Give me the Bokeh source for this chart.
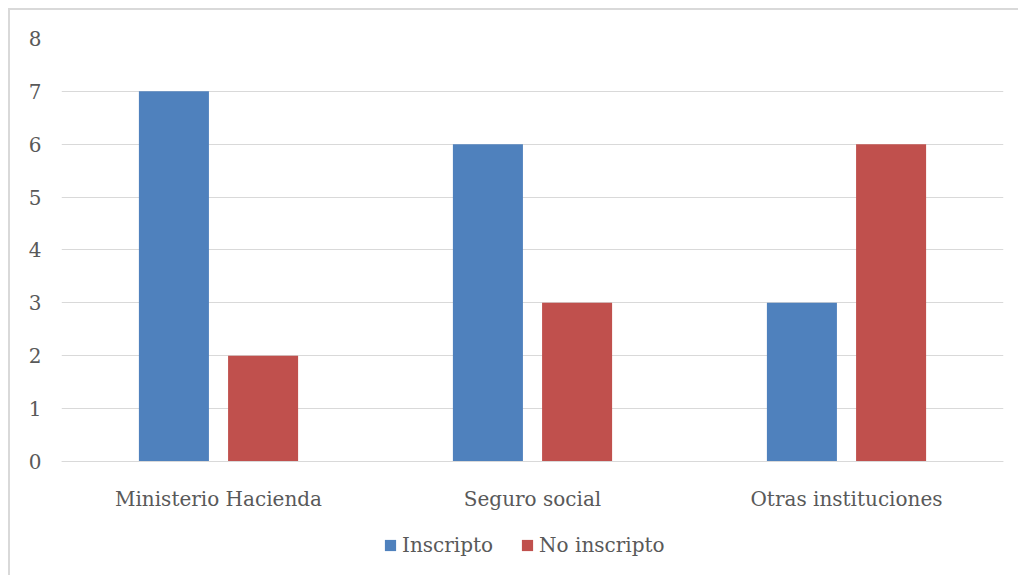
from bokeh.plotting import figure
from bokeh.models import ColumnDataSource, Legend, LegendItem, FactorRange, FixedTicker, Range1d
from bokeh.transform import dodge
from bokeh.embed import file_html
from bokeh.resources import INLINE

categories = ["Ministerio Hacienda", "Seguro social", "Otras instituciones"]
inscripto = [7, 6, 3]
no_inscripto = [2, 3, 6]
series_names = ["Inscripto", "No inscripto"]
y_ticks = [0, 1, 2, 3, 4, 5, 6, 7, 8]

FONT = "DejaVu Serif"
TXT = "#595959"
GRID = "#D9D9D9"

src = ColumnDataSource(dict(cat=categories, a=inscripto, b=no_inscripto))

# frame spans down to the bottom of the canvas so the legend can live inside it
p = figure(x_range=FactorRange(*categories), y_range=Range1d(-2.194, 8),
           width=1010, height=567, output_backend="svg", toolbar_location=None,
           min_border_left=51, min_border_right=17, min_border_top=28, min_border_bottom=0)
p.margin = (8, 0, 0, 8)
p.styles = {"border-top": "2px solid #D9D9D9", "border-left": "2px solid #D9D9D9"}
p.outline_line_color = None
p.x_range.range_padding = 0

r1 = p.vbar(x=dodge("cat", -0.142, range=p.x_range), top="a", width=0.223, source=src,
            color="#4F81BD", line_color=None)
r2 = p.vbar(x=dodge("cat", 0.142, range=p.x_range), top="b", width=0.223, source=src,
            color="#C0504D", line_color=None)

p.xgrid.grid_line_color = None
p.ygrid.grid_line_color = GRID
p.ygrid.grid_line_width = 1
p.yaxis.ticker = FixedTicker(ticks=y_ticks)
p.yaxis.axis_line_color = None
p.yaxis.major_tick_line_color = None
p.yaxis.minor_tick_line_color = None
p.yaxis.major_label_standoff = 14
p.xaxis.fixed_location = 0
p.xaxis.axis_line_color = GRID
p.xaxis.axis_line_width = 1
p.xaxis.major_tick_line_color = None
p.xaxis.minor_tick_line_color = None
p.xaxis.major_label_standoff = 20
for ax in (p.xaxis, p.yaxis):
    ax.major_label_text_font = FONT
    ax.major_label_text_font_size = "20px"
    ax.major_label_text_color = TXT

legend = Legend(items=[LegendItem(label=series_names[0], renderers=[r1]),
                       LegendItem(label=series_names[1], renderers=[r2])],
                orientation="horizontal", location=(322, 20))
legend.label_text_font = FONT
legend.label_text_font_size = "20px"
legend.label_text_color = TXT
legend.glyph_width = 14
legend.glyph_height = 14
legend.label_standoff = 5
legend.spacing = 27
legend.border_line_color = None
legend.background_fill_alpha = 0
legend.padding = 0
legend.margin = 0
p.add_layout(legend, "center")

open("out.html", "w").write(file_html(p, INLINE))
